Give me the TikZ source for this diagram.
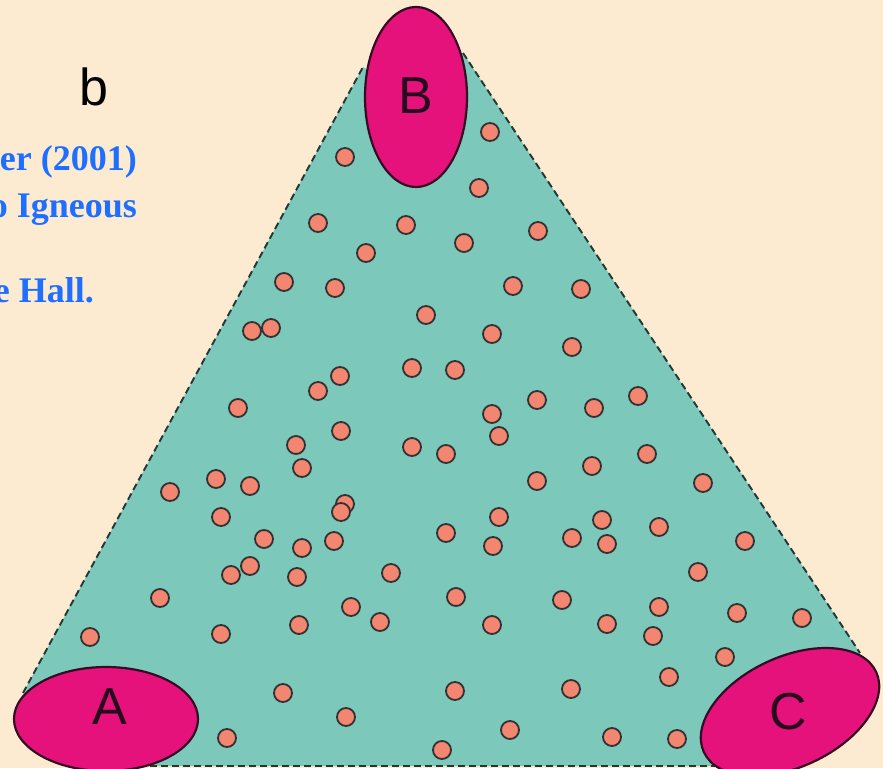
\documentclass[tikz,border=0pt]{standalone}
\usepackage{fontspec}
\setmainfont{Liberation Sans}
\newfontfamily\citefont{Liberation Serif}
\usetikzlibrary{shapes.geometric}
\definecolor{cream}{RGB}{252,235,208}
\definecolor{teal2}{RGB}{124,200,187}
\definecolor{magent}{RGB}{230,18,124}
\definecolor{blobedge}{RGB}{55,10,35}
\definecolor{dotfill}{RGB}{242,134,112}
\definecolor{dotedge}{RGB}{50,50,50}
\definecolor{edgegray}{RGB}{35,55,55}
\definecolor{citeblue}{RGB}{30,110,255}
\definecolor{lettercol}{RGB}{40,10,30}
\tikzset{
  blob/.style={ellipse, draw=blobedge, line width=2.2pt, fill=magent, inner sep=0pt},
  letter/.style={inner sep=0pt, text=lettercol, font=\fontsize{52}{60}\selectfont},
  dotnode/.style={circle, draw=dotedge, line width=1.8pt, fill=dotfill, minimum size=18pt, inner sep=0pt},
  edgeline/.style={draw=edgegray, line width=1.9pt, dash pattern=on 7pt off 4pt},
  cite/.style={inner sep=0pt, text=citeblue, font=\citefont\bfseries\fontsize{36}{45}\selectfont, anchor=base east},
}
\begin{document}
\begin{tikzpicture}[x=1pt,y=-1pt]
\useasboundingbox (0,0) rectangle (883,768);
\clip (0,0) rectangle (883,768);
\fill[cream] (0,0) rectangle (883,768);
% triangle corners
\coordinate (lb) at (23,693);
\coordinate (lt) at (363,67);
\coordinate (rt) at (463,53);
\coordinate (rb) at (860,653);
\coordinate (ai) at (106,740);
\coordinate (bl) at (106,766);
\coordinate (br) at (790,766);
\coordinate (ci) at (790,712);
\coordinate (bi) at (416,97);
\fill[teal2] (lb) -- (ai) -- (bl) -- (br) -- (ci) -- (rb) -- (rt) -- (bi) -- (lt) -- cycle;
\draw[edgeline] (lb) -- (lt);
\draw[edgeline] (rt) -- (rb);
\draw[edgeline] (bl) -- (br);
% dots
\foreach \p [count=\i] in {(490,132),(345,157),(479,188),(318,223),(406,225),(464,243),(538,231),(366,253),(284,282),(335,288),(513,286),(581,289),(426,315),(252,331),(271,328),(492,334),(572,347),(412,368),(455,370),(340,376),(318,391),(238,408),(537,400),(492,414),(594,408),(638,396),(341,431),(499,436),(296,445),(412,447),(446,454),(302,468),(647,454),(592,466),(216,479),(250,486),(170,492),(537,481),(703,483),(345,504),(341,512),(221,517),(499,517),(602,520),(659,527),(446,533),(264,539),(334,541),(302,548),(493,546),(572,538),(607,544),(745,541),(231,575),(250,566),(297,577),(391,573),(698,572),(160,598),(456,597),(562,600),(659,607),(351,607),(380,622),(299,625),(221,634),(492,625),(607,624),(737,613),(802,618),(653,636),(90,637),(725,657),(669,677),(283,693),(455,691),(571,689),(346,717),(510,730),(227,738),(442,750),(612,737),(677,739)}
  \node[dotnode] (d\i) at \p {};
% end-member blobs
\node[blob, minimum width=184pt, minimum height=104pt] (A) at (106,719) {};
\node[blob, minimum width=102pt, minimum height=180pt] (B) at (416,97) {};
\node[blob, minimum width=190pt, minimum height=110pt, rotate=25] (C) at (790,712) {};
\node[letter] (Alab) at (110,707) {A};
\node[letter] (Blab) at (416,96) {B};
\node[letter] (Clab) at (788,712) {C};
% panel label
\node[inner sep=0pt, anchor=base, font=\fontsize{52}{60}\selectfont] (plabel) at (94,105) {b};
% citation fragments
\node[cite] (c1) at (137,170) {er (2001)};
\node[cite] (c2) at (137,217) {o Igneous};
\node[cite] (c3) at (94,302) {e Hall.};
\end{tikzpicture}
\end{document}
